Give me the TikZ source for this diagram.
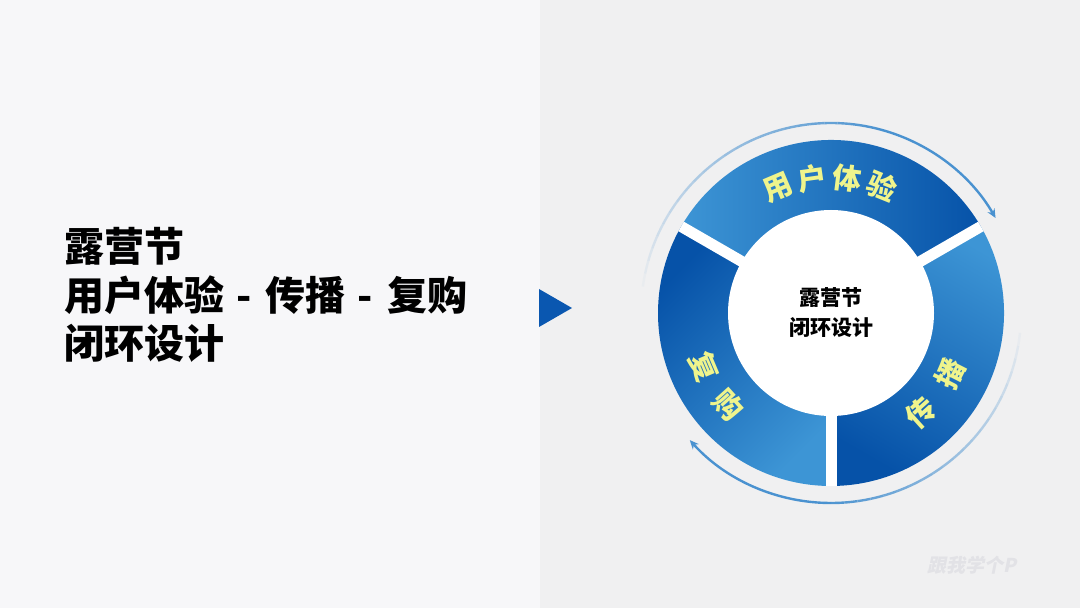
\documentclass[tikz,border=0pt]{standalone}
\usepackage{fontspec}
\setmainfont{Noto Sans CJK SC}
\usetikzlibrary{arrows.meta}
\definecolor{leftbg}{HTML}{F7F7F9}
\definecolor{rightbg}{HTML}{F0F0F1}
\definecolor{seglight}{HTML}{3D95D5}
\definecolor{segdark}{HTML}{0652A8}
\definecolor{labyellow}{HTML}{EFF48C}
\definecolor{loopblue}{HTML}{4A92D0}
\definecolor{markblue}{HTML}{0A57B0}
\definecolor{wmgrey}{HTML}{E2E2E6}
\newcommand{\stepdash}{\hspace{.3em}-\hspace{.36em}}

\begin{document}
\begin{tikzpicture}[x=1pt,y=1pt,
  seglabel/.style={text=labyellow,font=\bfseries\fontsize{29}{29}\selectfont,inner sep=0pt},
  loopline/.style={loopblue,line width=2.4pt},
  gap/.style={white,line width=11pt}]
\useasboundingbox(0,0) rectangle (1080,608);
\fill[leftbg](0,0) rectangle (540,608);
\fill[rightbg](540,0) rectangle (1080,608);
% title on the left
\node[anchor=west,align=left,inner sep=0pt,
  font=\bfseries\fontsize{40}{48.5}\selectfont](title) at (64,313){露营节\\用户体验\stepdash 传播\stepdash 复购\\闭环设计};
\fill[markblue](539,319)--(572,300)--(539,281)--cycle;
\node[text=wmgrey,xslant=0.2,font=\bfseries\fontsize{19}{19}\selectfont](mark) at (973,43){跟我学个P};
% ring
\begin{scope}[shift={(831,295)}]
\shade[left color=seglight,right color=segdark](150:173) arc(150:30:173)--(30:100) arc(30:150:100)--cycle;
\shade[top color=seglight,bottom color=segdark,shading angle=-30](30:173) arc(30:-90:173)--(-90:100) arc(-90:30:100)--cycle;
\shade[top color=segdark,bottom color=seglight,shading angle=45](270:173) arc(270:150:173)--(150:100) arc(150:270:100)--cycle;
\foreach \a in {30,150,270}
  \draw[gap](0,0)--(\a:173);
\fill[white](0,0) circle(103);
\node[align=center,font=\bfseries\fontsize{21}{30}\selectfont](core) at (0,0){露营节\\闭环设计};
\foreach \c/\a in {用/113,户/98,体/83,验/68}
  \node[seglabel,rotate=\a-90] at (\a:136){\c};
\foreach \c/\a in {传/-48,播/-27}
  \node[seglabel,rotate=\a+90] at (\a:134){\c};
\foreach \c/\a in {复/203,购/222}
  \node[seglabel,rotate=\a+90] at (\a:138){\c};
% loop arrows, faded at the tail
\foreach \i in {0,...,24}{
  \pgfmathsetmacro\op{\i/25}
  \draw[loopline,opacity=\op](176-4*\i:190) arc(176-4*\i:172-4*\i:190);
}
\draw[loopline,-{Stealth[length=9pt,width=8pt]}](76:190) arc(76:30:190);
\foreach \i in {0,...,21}{
  \pgfmathsetmacro\op{\i/22}
  \draw[loopline,opacity=\op](-2-4*\i:190) arc(-2-4*\i:-6-4*\i:190);
}
\draw[loopline,-{Stealth[length=9pt,width=8pt]}](-90:190) arc(-90:-138:190);
\end{scope}
\end{tikzpicture}
\end{document}
